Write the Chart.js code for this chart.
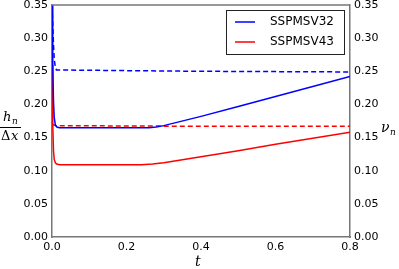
<!DOCTYPE html>
<html>
<head>
<meta charset="utf-8">
<script src="https://cdn.jsdelivr.net/npm/chart.js@4/dist/chart.umd.min.js"></script>
<style>
  body { margin: 0; background: #fff; }
  canvas { display: block; }
</style>
</head>
<body>
<canvas id="myChart" width="399" height="269"></canvas>
<script>
// values
const seriesNames = ['SSPMSV32', 'SSPMSV43']
const tSolid32 = [0, 0.002, 0.004, 0.006, 0.009, 0.013, 0.02, 0.1, 0.2, 0.26, 0.28, 0.3, 0.4, 0.5, 0.6, 0.7, 0.8]
const hn32 = [0.35, 0.26, 0.205, 0.18, 0.169, 0.166, 0.165, 0.165, 0.165, 0.165, 0.166, 0.168, 0.182, 0.197, 0.212, 0.227, 0.242]
const tSolid43 = [0, 0.002, 0.004, 0.006, 0.009, 0.013, 0.02, 0.1, 0.2, 0.24, 0.27, 0.3, 0.4, 0.5, 0.6, 0.7, 0.8]
const hn43 = [0.26, 0.17, 0.13, 0.117, 0.112, 0.11, 0.109, 0.109, 0.109, 0.109, 0.11, 0.112, 0.121, 0.13, 0.14, 0.149, 0.158]
const tDash32 = [0, 0.002, 0.004, 0.006, 0.009, 0.012, 0.2, 0.4, 0.6, 0.8]
const nu32 = [0.35, 0.32, 0.29, 0.268, 0.256, 0.252, 0.251, 0.25, 0.2495, 0.249]
const tDash43 = [0, 0.01, 0.4, 0.8]
const nu43 = [0.17, 0.168, 0.167, 0.167]
const xTicks = [0, 0.2, 0.4, 0.6, 0.8]

const pts = (xs, ys) => xs.map((x, i) => ({ x: x, y: ys[i] }))

// legend drawn inside the plot, matplotlib style
const boxLegend = {
  id: 'boxLegend',
  afterDraw(chart) {
    const c = chart.ctx
    const a = chart.chartArea
    const x0 = a.right - 124, y0 = 10, w = 118, h = 44
    c.save()
    c.fillStyle = '#fff'
    c.strokeStyle = '#222'
    c.lineWidth = 1
    c.fillRect(x0, y0, w, h)
    c.strokeRect(x0 + 0.5, y0 + 0.5, w, h)
    const cols = ['blue', 'red']
    c.font = '12px "DejaVu Sans"'
    c.textBaseline = 'middle'
    seriesNames.forEach((n, i) => {
      const yy = y0 + 12 + i * 20
      c.strokeStyle = cols[i]
      c.lineWidth = 1.5
      c.beginPath()
      c.moveTo(x0 + 9, yy)
      c.lineTo(x0 + 29, yy)
      c.stroke()
      c.fillStyle = '#000'
      c.fillText(n, x0 + 44, yy)
    })
    c.restore()
  }
}

// axis titles: h_n / Δx on the left, ν_n on the right, t below
const mathLabels = {
  id: 'mathLabels',
  afterDraw(chart) {
    const c = chart.ctx
    c.save()
    c.fillStyle = '#000'
    c.textBaseline = 'alphabetic'
    c.font = 'italic 13px "DejaVu Serif"'
    c.fillText('h', 3, 121)
    c.font = 'italic 9px "DejaVu Serif"'
    c.fillText('n', 12, 124)
    c.fillRect(0, 127, 21, 1)
    c.font = '13px "DejaVu Serif"'
    c.fillText('Δ', 1, 140)
    c.font = 'italic 13px "DejaVu Serif"'
    c.fillText('x', 11, 140)
    c.font = 'italic 14px "DejaVu Serif"'
    c.fillText('ν', 381, 132)
    c.font = 'italic 9px "DejaVu Serif"'
    c.fillText('n', 390, 135)
    c.font = 'italic 14px "DejaVu Serif"'
    c.fillText('t', 195, 266)
    c.restore()
  }
}

const noPad = s => { s.paddingTop = 0; s.paddingBottom = 0 }

const ctx = document.getElementById('myChart').getContext('2d')
new Chart(ctx, {
  type: 'line',
  data: {
    datasets: [
      { label: seriesNames[0], data: pts(tSolid32, hn32), borderColor: 'blue', borderWidth: 1.5, yAxisID: 'y' },
      { label: seriesNames[1], data: pts(tSolid43, hn43), borderColor: 'red', borderWidth: 1.5, yAxisID: 'y' },
      { label: 'nu32', data: pts(tDash32, nu32), borderColor: 'blue', borderWidth: 1.5, borderDash: [5, 3], yAxisID: 'y2' },
      { label: 'nu43', data: pts(tDash43, nu43), borderColor: 'red', borderWidth: 1.5, borderDash: [5, 3], yAxisID: 'y2' }
    ]
  },
  options: {
    responsive: false,
    animation: false,
    layout: { padding: { top: 5, left: 0, right: 0, bottom: 0 } },
    elements: { point: { radius: 0 }, line: { tension: 0 } },
    plugins: { legend: { display: false }, tooltip: { enabled: false } },
    scales: {
      x: {
        type: 'linear', min: 0, max: 0.8,
        afterBuildTicks: s => { s.ticks = xTicks.map(v => ({ value: v })) },
        afterFit: s => { s.height = 32; s.paddingLeft = 0; s.paddingRight = 0 },
        grid: { display: false, drawTicks: false },
        border: { color: '#777', width: 1.5 },
        ticks: { color: '#000', padding: 4, font: { family: 'DejaVu Sans', size: 11 }, callback: v => v.toFixed(1) }
      },
      y: {
        position: 'left', min: 0, max: 0.35,
        afterFit: s => { s.width = 52; noPad(s) },
        grid: { display: false, drawTicks: false },
        border: { color: '#777', width: 1.5 },
        ticks: { stepSize: 0.05, color: '#000', padding: 4, font: { family: 'DejaVu Sans', size: 11 }, callback: v => v.toFixed(2) }
      },
      y2: {
        position: 'right', min: 0, max: 0.35,
        afterFit: s => { s.width = 49; noPad(s) },
        grid: { display: false, drawTicks: false },
        border: { color: '#777', width: 1.5 },
        ticks: { stepSize: 0.05, color: '#000', padding: 4, font: { family: 'DejaVu Sans', size: 11 }, callback: v => v.toFixed(2) }
      }
    }
  },
  plugins: [boxLegend, mathLabels,
    {
      id: 'topBorder',
      afterDraw(chart) {
        const c = chart.ctx, a = chart.chartArea
        c.save()
        c.strokeStyle = '#777'
        c.lineWidth = 1.5
        c.beginPath()
        c.moveTo(a.left, a.top)
        c.lineTo(a.right, a.top)
        c.stroke()
        c.restore()
      }
    }]
})
</script>
</body>
</html>
